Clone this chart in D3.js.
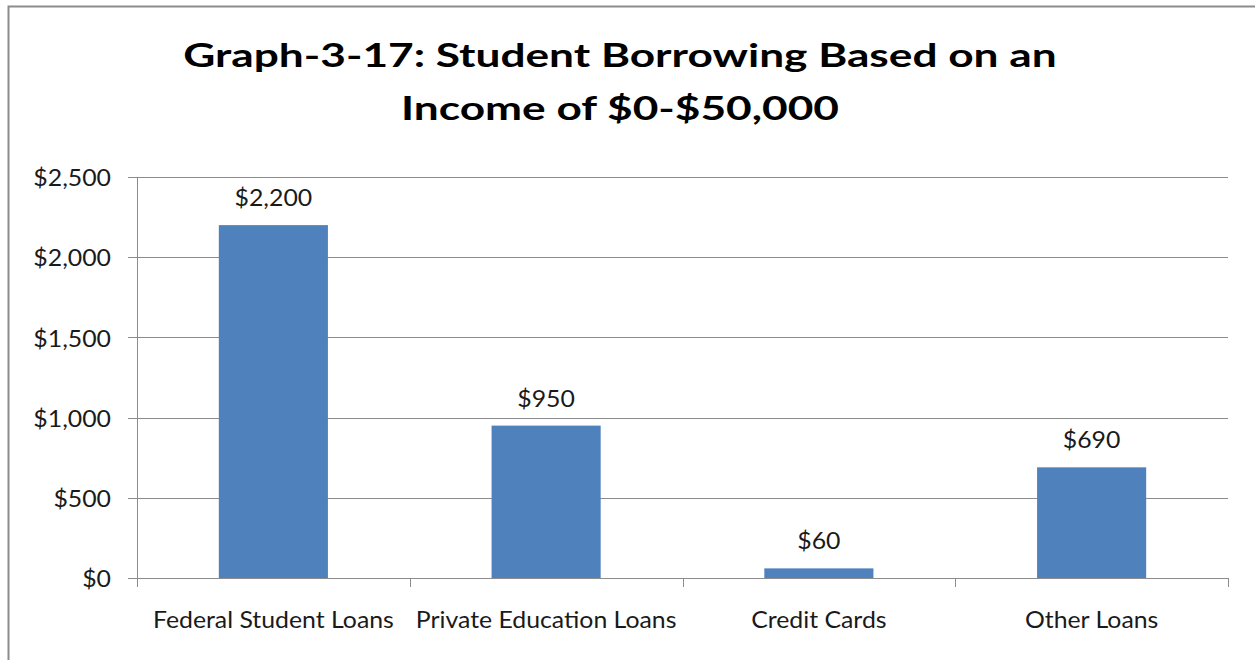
<!DOCTYPE html>
<html>
<head>
<meta charset="utf-8">
<script src="https://cdn.jsdelivr.net/npm/d3@7/dist/d3.min.js"></script>
<style>
  html, body { margin: 0; padding: 0; background: #fff; }
  svg { display: block; }
  text { font-family: Lato, "Open Sans", sans-serif; }
</style>
</head>
<body>
<svg id="chart" width="1255" height="660"></svg>
<script>
// Student borrowing, income $0-$50,000
const categories = ["Federal Student Loans", "Private Education Loans", "Credit Cards", "Other Loans"];
const amounts = [2200, 950, 60, 690];
const yTicks = [0, 500, 1000, 1500, 2000, 2500];
const titleLines = ["Graph-3-17: Student Borrowing Based on an", "Income of $0-$50,000"];

const W = 1255, H = 660;
const margin = { left: 137, right: 1228, top: 177, bottom: 578 };
const titleSize = 33, titleStretch = 1.34;
const labelSize = 23, labelStretch = 1.08;
const money = d => "$" + d3.format(",")(d);

// place a text at (px, py) widened horizontally by factor k
function placeText(sel, px, py, k) {
  sel.attr("transform", `translate(${px},${py}) scale(${k},1)`);
}

const svg = d3.select("#chart");

// outer frame (only the top and left edges fall inside the page)
svg.append("path")
  .attr("d", `M8.5,${H} L8.5,6.5 L${W},6.5`)
  .attr("fill", "none")
  .attr("stroke", "#8c8c8c")
  .attr("stroke-width", 2);

const x = d3.scaleBand()
  .domain(categories)
  .range([margin.left, margin.right])
  .paddingInner(0.6)
  .paddingOuter(0.3);

const y = d3.scaleLinear()
  .domain([0, 2500])
  .range([margin.bottom, margin.top]);

// title
const title = svg.append("g");
titleLines.forEach((line, i) => {
  title.append("text")
    .text(line)
    .attr("font-weight", "bold")
    .attr("font-size", titleSize)
    .attr("fill", "#000")
    .attr("text-anchor", "middle")
    .call(placeText, 620, 67 + i * 53, titleStretch);
});

// horizontal gridlines with y ticks
const yAxis = svg.append("g");
yAxis.selectAll("line.grid")
  .data(yTicks)
  .join("line")
  .attr("class", "grid")
  .attr("x1", margin.left - 9)
  .attr("x2", margin.right)
  .attr("y1", d => Math.round(y(d)) + 0.5)
  .attr("y2", d => Math.round(y(d)) + 0.5)
  .attr("stroke", "#8c8c8c")
  .attr("stroke-width", 1);

yAxis.selectAll("text")
  .data(yTicks)
  .join("text")
  .text(money)
  .attr("font-size", labelSize)
  .attr("fill", "#1a1a1a")
  .attr("text-anchor", "end")
  .attr("dominant-baseline", "central")
  .each(function (d) { d3.select(this).call(placeText, 111, y(d), labelStretch); });

// vertical axis line
svg.append("line")
  .attr("x1", margin.left + 0.5).attr("x2", margin.left + 0.5)
  .attr("y1", margin.top).attr("y2", margin.bottom)
  .attr("stroke", "#8c8c8c");

// category boundary ticks
const bounds = d3.range(categories.length + 1).map(i => margin.left + i * x.step());
svg.selectAll("line.xtick")
  .data(bounds)
  .join("line")
  .attr("class", "xtick")
  .attr("x1", d => Math.round(d) + 0.5)
  .attr("x2", d => Math.round(d) + 0.5)
  .attr("y1", margin.bottom)
  .attr("y2", margin.bottom + 9)
  .attr("stroke", "#8c8c8c");

// bars
svg.selectAll("rect.bar")
  .data(categories)
  .join("rect")
  .attr("class", "bar")
  .attr("x", d => x(d))
  .attr("width", x.bandwidth())
  .attr("y", (d, i) => y(amounts[i]))
  .attr("height", (d, i) => y(0) - y(amounts[i]))
  .attr("fill", "#4f81bd");

// value labels
svg.selectAll("text.value")
  .data(categories)
  .join("text")
  .attr("class", "value")
  .text((d, i) => money(amounts[i]))
  .attr("font-size", labelSize)
  .attr("fill", "#1a1a1a")
  .attr("text-anchor", "middle")
  .each(function (d, i) {
    d3.select(this).call(placeText, x(d) + x.bandwidth() / 2, y(amounts[i]) - 19, labelStretch);
  });

// category labels
svg.selectAll("text.cat")
  .data(categories)
  .join("text")
  .attr("class", "cat")
  .text(d => d)
  .attr("font-size", labelSize)
  .attr("fill", "#1a1a1a")
  .attr("text-anchor", "middle")
  .each(function (d) {
    d3.select(this).call(placeText, x(d) + x.bandwidth() / 2, 628, labelStretch);
  });
</script>
</body>
</html>
